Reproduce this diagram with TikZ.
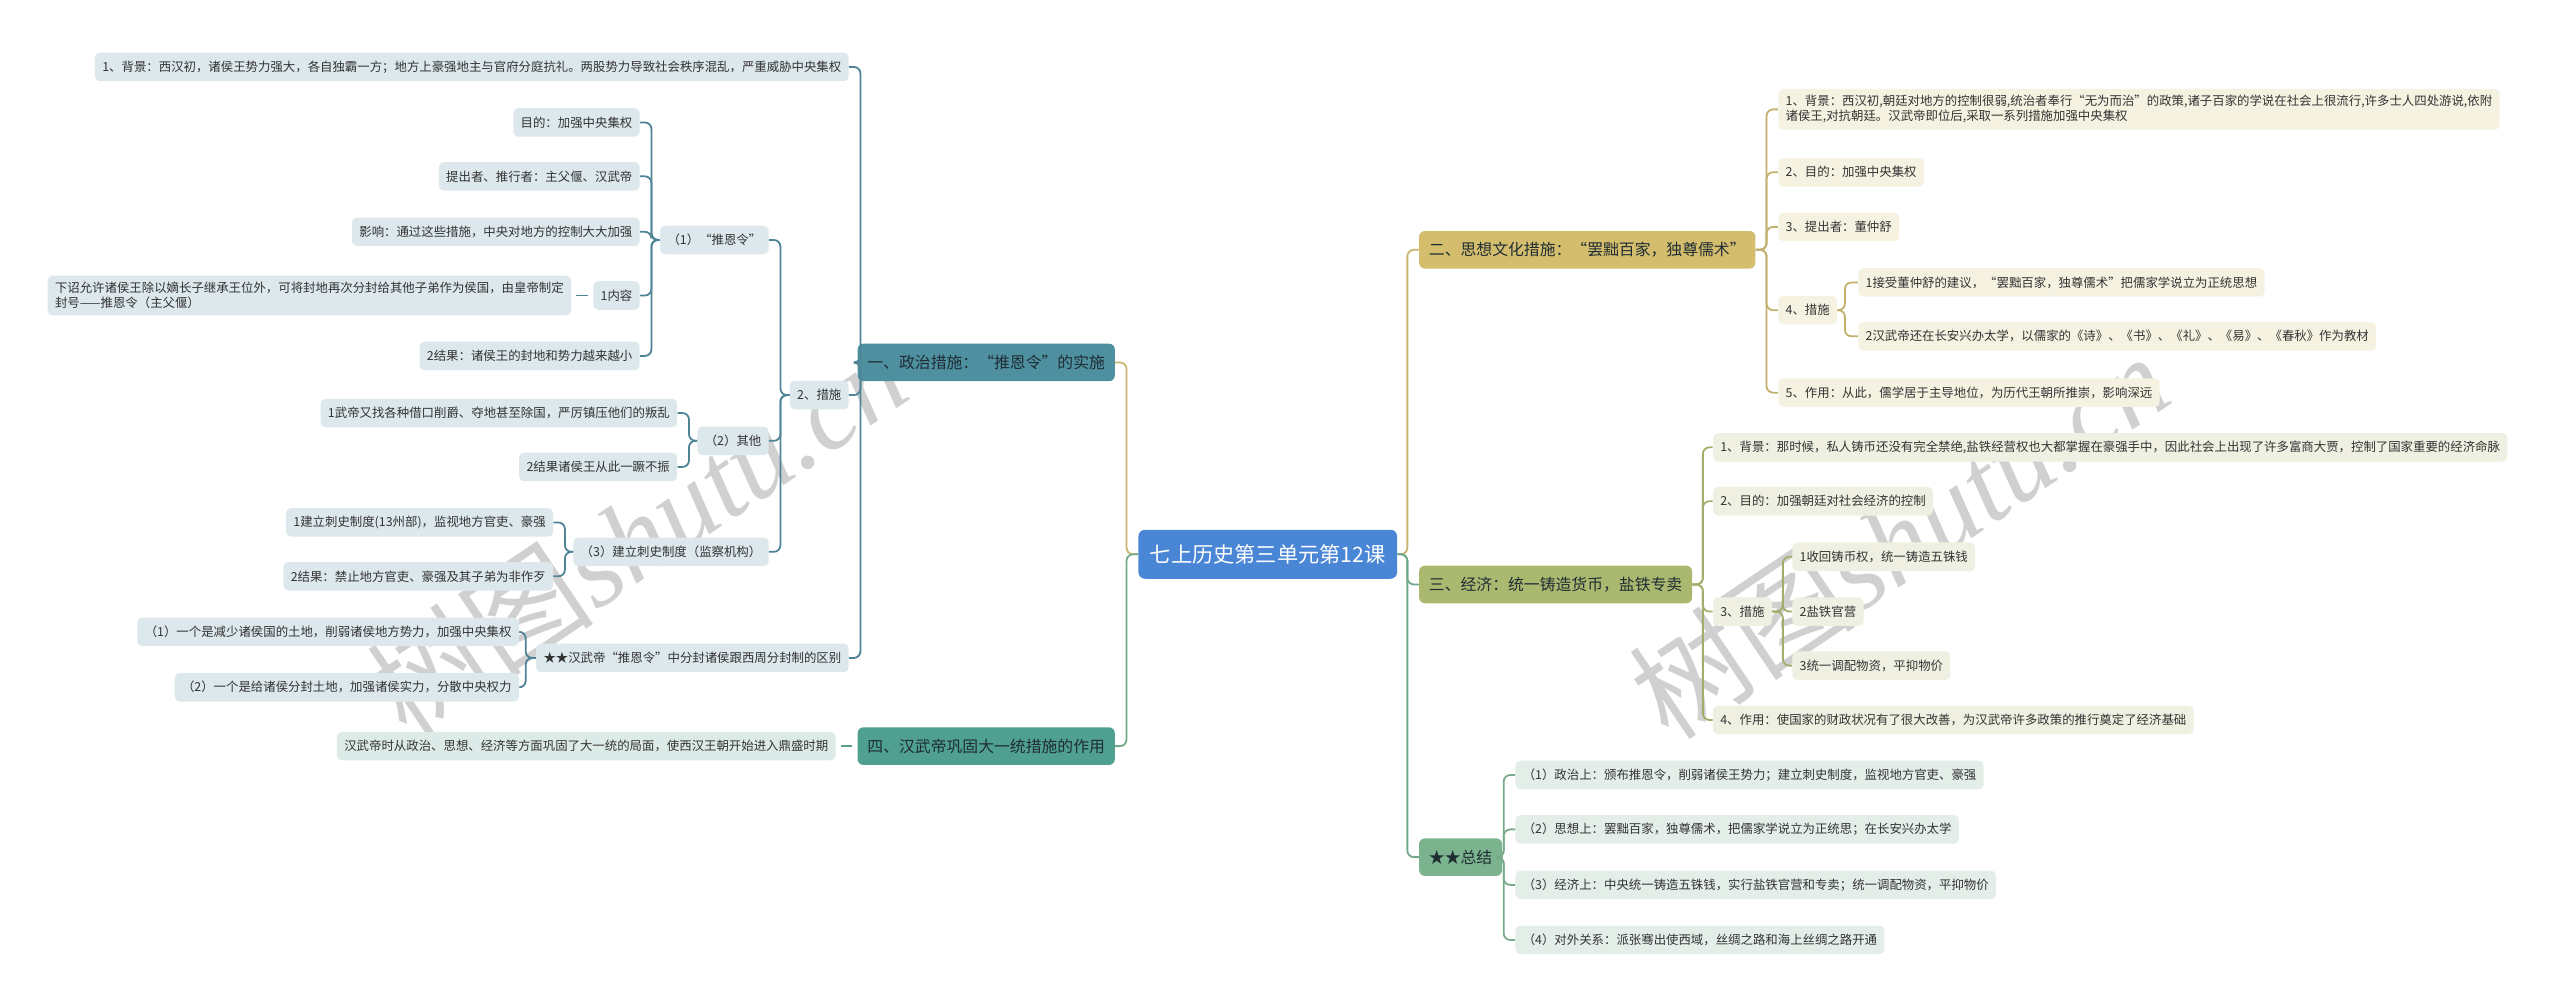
\documentclass[tikz,border=0pt]{standalone}
\usepackage{fontspec}
\setmainfont{Noto Sans CJK SC}
\newfontfamily\wmlatin{Liberation Serif}
\definecolor{rootblue}{HTML}{4A86D6}
\definecolor{goldln}{HTML}{C9B570}
\definecolor{greenln}{HTML}{72A98A}
\definecolor{aF}{HTML}{4E8FA0}\definecolor{aL}{HTML}{4F8396}\definecolor{aS}{HTML}{DCE8EC}
\definecolor{dF}{HTML}{4FA08F}\definecolor{dL}{HTML}{5A9E8E}\definecolor{dS}{HTML}{DDEBE8}
\definecolor{bF}{HTML}{D4BE6E}\definecolor{bL}{HTML}{C2B06E}\definecolor{bS}{HTML}{F5F2E1}
\definecolor{cF}{HTML}{ABB870}\definecolor{cL}{HTML}{A0AE6A}\definecolor{cS}{HTML}{EFF0E2}
\definecolor{eF}{HTML}{7AB38E}\definecolor{eL}{HTML}{79AA8A}\definecolor{eS}{HTML}{E4EEE8}
\definecolor{txt}{HTML}{333333}
\definecolor{txtd}{HTML}{1F2D33}
\definecolor{wmgray}{HTML}{AAAAAA}
\tikzset{
  box/.style={rounded corners=3pt, inner xsep=4.5pt, inner ysep=4pt, minimum height=17.5pt,
    text=txt, font=\fontsize{7.6}{9.2}\selectfont, align=left},
  sA/.style={box, fill=aS}, sB/.style={box, fill=bS}, sC/.style={box, fill=cS},
  sD/.style={box, fill=dS}, sE/.style={box, fill=eS},
  br/.style={rounded corners=3.5pt, inner xsep=6pt, inner ysep=3pt, minimum height=23pt,
    text=txtd, font=\fontsize{9.7}{11}\selectfont},
  rootbox/.style={rounded corners=4pt, fill=rootblue, text=white, inner xsep=7pt,
    minimum height=30pt, font=\fontsize{13}{15}\selectfont},
  ln/.style={line width=1.1pt, rounded corners=4pt},
  wm/.style={text=wmgray, opacity=0.55, font=\fontsize{70}{74}\selectfont}
}
\newcommand\lkL[4]{\draw[ln,#1] (#2.west) -- (#2.west -| #3) |- (#4.east);}
\newcommand\lkR[4]{\draw[ln,#1] (#2.east) -- (#2.east -| #3) |- (#4.west);}
\begin{document}
\begin{tikzpicture}[x=1pt,y=-1pt]
\useasboundingbox (0,0) rectangle (1568,617);
% line positions
\coordinate (xL0) at (690,0);
\coordinate (xA) at (527,0);
\coordinate (xA2) at (478,0);
\coordinate (xA21) at (399,0);
\coordinate (xA22) at (422,0);
\coordinate (xA23) at (346,0);
\coordinate (xA3) at (322,0);
\coordinate (xR0) at (862,0);
\coordinate (xB) at (1082,0);
\coordinate (xB4) at (1130,0);
\coordinate (xC) at (1043,0);
\coordinate (xC3) at (1092,0);
\coordinate (xE) at (921,0);

% watermarks
\node[wm, rotate=34] (wm1) at (390,326) {树图{\wmlatin\itshape shutu.cn}};
\node[wm, rotate=34] (wm2) at (1163,328) {树图{\wmlatin\itshape shutu.cn}};

% root
\node[rootbox] (R) at (776.5,339.5) {七上历史第三单元第12课};

% ---------- left ----------
\node[br, fill=aF, anchor=east] (A) at (683,222) {一、政治措施：“推恩令”的实施};
\node[br, fill=dF, anchor=east] (D) at (683,457) {四、汉武帝巩固大一统措施的作用};

\node[sA, anchor=east] (A1) at (520,41) {1、背景：西汉初，诸侯王势力强大，各自独霸一方；地方上豪强地主与官府分庭抗礼。两股势力导致社会秩序混乱，严重威胁中央集权};
\node[sA, anchor=east] (A2) at (520,242) {2、措施};
\node[sA, anchor=east] (A3) at (520,403) {★★汉武帝“推恩令”中分封诸侯跟西周分封制的区别};

\node[sA, anchor=east] (A21) at (471,147) {（1）“推恩令”};
\node[sA, anchor=east] (A22) at (471,270) {（2）其他};
\node[sA, anchor=east] (A23) at (471,338) {（3）建立刺史制度（监察机构）};

\node[sA, anchor=east] (P1) at (392,75) {目的：加强中央集权};
\node[sA, anchor=east] (P2) at (392,108) {提出者、推行者：主父偃、汉武帝};
\node[sA, anchor=east] (P3) at (392,142) {影响：通过这些措施，中央对地方的控制大大加强};
\node[sA, anchor=east] (P4) at (392,181) {1内容};
\node[sA, anchor=east] (P5) at (392,218) {2结果：诸侯王的封地和势力越来越小};
\node[sA, anchor=east] (P41) at (350,181) {下诏允许诸侯王除以嫡长子继承王位外，可将封地再次分封给其他子弟作为侯国，由皇帝制定\\封号——推恩令（主父偃）};

\node[sA, anchor=east] (Q1) at (415,253) {1武帝又找各种借口削爵、夺地甚至除国，严厉镇压他们的叛乱};
\node[sA, anchor=east] (Q2) at (415,286) {2结果诸侯王从此一蹶不振};

\node[sA, anchor=east] (S1) at (339,320) {1建立刺史制度(13州部)，监视地方官吏、豪强};
\node[sA, anchor=east] (S2) at (339,353) {2结果：禁止地方官吏、豪强及其子弟为非作歹};

\node[sA, anchor=east] (T1) at (318,387) {（1）一个是减少诸侯国的土地，削弱诸侯地方势力，加强中央集权};
\node[sA, anchor=east] (T2) at (318,421) {（2）一个是给诸侯分封土地，加强诸侯实力，分散中央权力};

\node[sD, anchor=east] (D1) at (512,457) {汉武帝时从政治、思想、经济等方面巩固了大一统的局面，使西汉王朝开始进入鼎盛时期};

% ---------- right ----------
\node[br, fill=bF, anchor=west] (B) at (869,153) {二、思想文化措施：“罢黜百家，独尊儒术”};
\node[br, fill=cF, anchor=west] (C) at (869,358) {三、经济：统一铸造货币，盐铁专卖};
\node[br, fill=eF, anchor=west] (E) at (869,525) {★★总结};

\node[sB, anchor=west] (B1) at (1089,67) {1、背景：西汉初,朝廷对地方的控制很弱,统治者奉行“无为而治”的政策,诸子百家的学说在社会上很流行,许多士人四处游说,依附\\诸侯王,对抗朝廷。汉武帝即位后,采取一系列措施加强中央集权};
\node[sB, anchor=west] (B2) at (1089,105.5) {2、目的：加强中央集权};
\node[sB, anchor=west] (B3) at (1089,139) {3、提出者：董仲舒};
\node[sB, anchor=west] (B4) at (1089,190) {4、措施};
\node[sB, anchor=west] (B5) at (1089,240.5) {5、作用：从此，儒学居于主导地位，为历代王朝所推崇，影响深远};
\node[sB, anchor=west] (B41) at (1138,173) {1接受董仲舒的建议，“罢黜百家，独尊儒术”把儒家学说立为正统思想};
\node[sB, anchor=west] (B42) at (1138,206) {2汉武帝还在长安兴办太学，以儒家的《诗》、《书》、《礼》、《易》、《春秋》作为教材};

\node[sC, anchor=west] (C1) at (1049,274) {1、背景：那时候，私人铸币还没有完全禁绝,盐铁经营权也大都掌握在豪强手中，因此社会上出现了许多富商大贾，控制了国家重要的经济命脉};
\node[sC, anchor=west] (C2) at (1049,307) {2、目的：加强朝廷对社会经济的控制};
\node[sC, anchor=west] (C3) at (1049,374.6) {3、措施};
\node[sC, anchor=west] (C4) at (1049,441) {4、作用：使国家的财政状况有了很大改善，为汉武帝许多政策的推行奠定了经济基础};
\node[sC, anchor=west] (C31) at (1097.6,341) {1收回铸币权，统一铸造五铢钱};
\node[sC, anchor=west] (C32) at (1097.6,374.6) {2盐铁官营};
\node[sC, anchor=west] (C33) at (1097.6,407.7) {3统一调配物资，平抑物价};

\node[sE, anchor=west] (E1) at (928,474.7) {（1）政治上：颁布推恩令，削弱诸侯王势力；建立刺史制度，监视地方官吏、豪强};
\node[sE, anchor=west] (E2) at (928,508) {（2）思想上：罢黜百家，独尊儒术，把儒家学说立为正统思；在长安兴办太学};
\node[sE, anchor=west] (E3) at (928,542) {（3）经济上：中央统一铸造五铢钱，实行盐铁官营和专卖；统一调配物资，平抑物价};
\node[sE, anchor=west] (E4) at (928,575.7) {（4）对外关系：派张骞出使西域，丝绸之路和海上丝绸之路开通};

% ---------- connectors ----------
\lkL{goldln}{R}{xL0}{A}
\lkL{greenln}{R}{xL0}{D}
\lkL{aL}{A}{xA}{A1}
\lkL{aL}{A}{xA}{A2}
\lkL{aL}{A}{xA}{A3}
\lkL{aL}{A2}{xA2}{A21}
\lkL{aL}{A2}{xA2}{A22}
\lkL{aL}{A2}{xA2}{A23}
\lkL{aL}{A21}{xA21}{P1}
\lkL{aL}{A21}{xA21}{P2}
\lkL{aL}{A21}{xA21}{P3}
\lkL{aL}{A21}{xA21}{P4}
\lkL{aL}{A21}{xA21}{P5}
\draw[ln,aL,shorten <=3pt,shorten >=3pt] (P4.west) -- (P41.east);
\lkL{aL}{A22}{xA22}{Q1}
\lkL{aL}{A22}{xA22}{Q2}
\lkL{aL}{A23}{xA23}{S1}
\lkL{aL}{A23}{xA23}{S2}
\lkL{aL}{A3}{xA3}{T1}
\lkL{aL}{A3}{xA3}{T2}
\draw[ln,dL,shorten <=3pt,shorten >=3pt] (D.west) -- (D1.east);

\lkR{goldln}{R}{xR0}{B}
\lkR{greenln}{R}{xR0}{C}
\lkR{greenln}{R}{xR0}{E}
\lkR{bL}{B}{xB}{B1}
\lkR{bL}{B}{xB}{B2}
\lkR{bL}{B}{xB}{B3}
\lkR{bL}{B}{xB}{B4}
\lkR{bL}{B}{xB}{B5}
\lkR{bL}{B4}{xB4}{B41}
\lkR{bL}{B4}{xB4}{B42}
\lkR{cL}{C}{xC}{C1}
\lkR{cL}{C}{xC}{C2}
\lkR{cL}{C}{xC}{C3}
\lkR{cL}{C}{xC}{C4}
\lkR{cL}{C3}{xC3}{C31}
\lkR{cL}{C3}{xC3}{C32}
\lkR{cL}{C3}{xC3}{C33}
\lkR{eL}{E}{xE}{E1}
\lkR{eL}{E}{xE}{E2}
\lkR{eL}{E}{xE}{E3}
\lkR{eL}{E}{xE}{E4}
\end{tikzpicture}
\end{document}
